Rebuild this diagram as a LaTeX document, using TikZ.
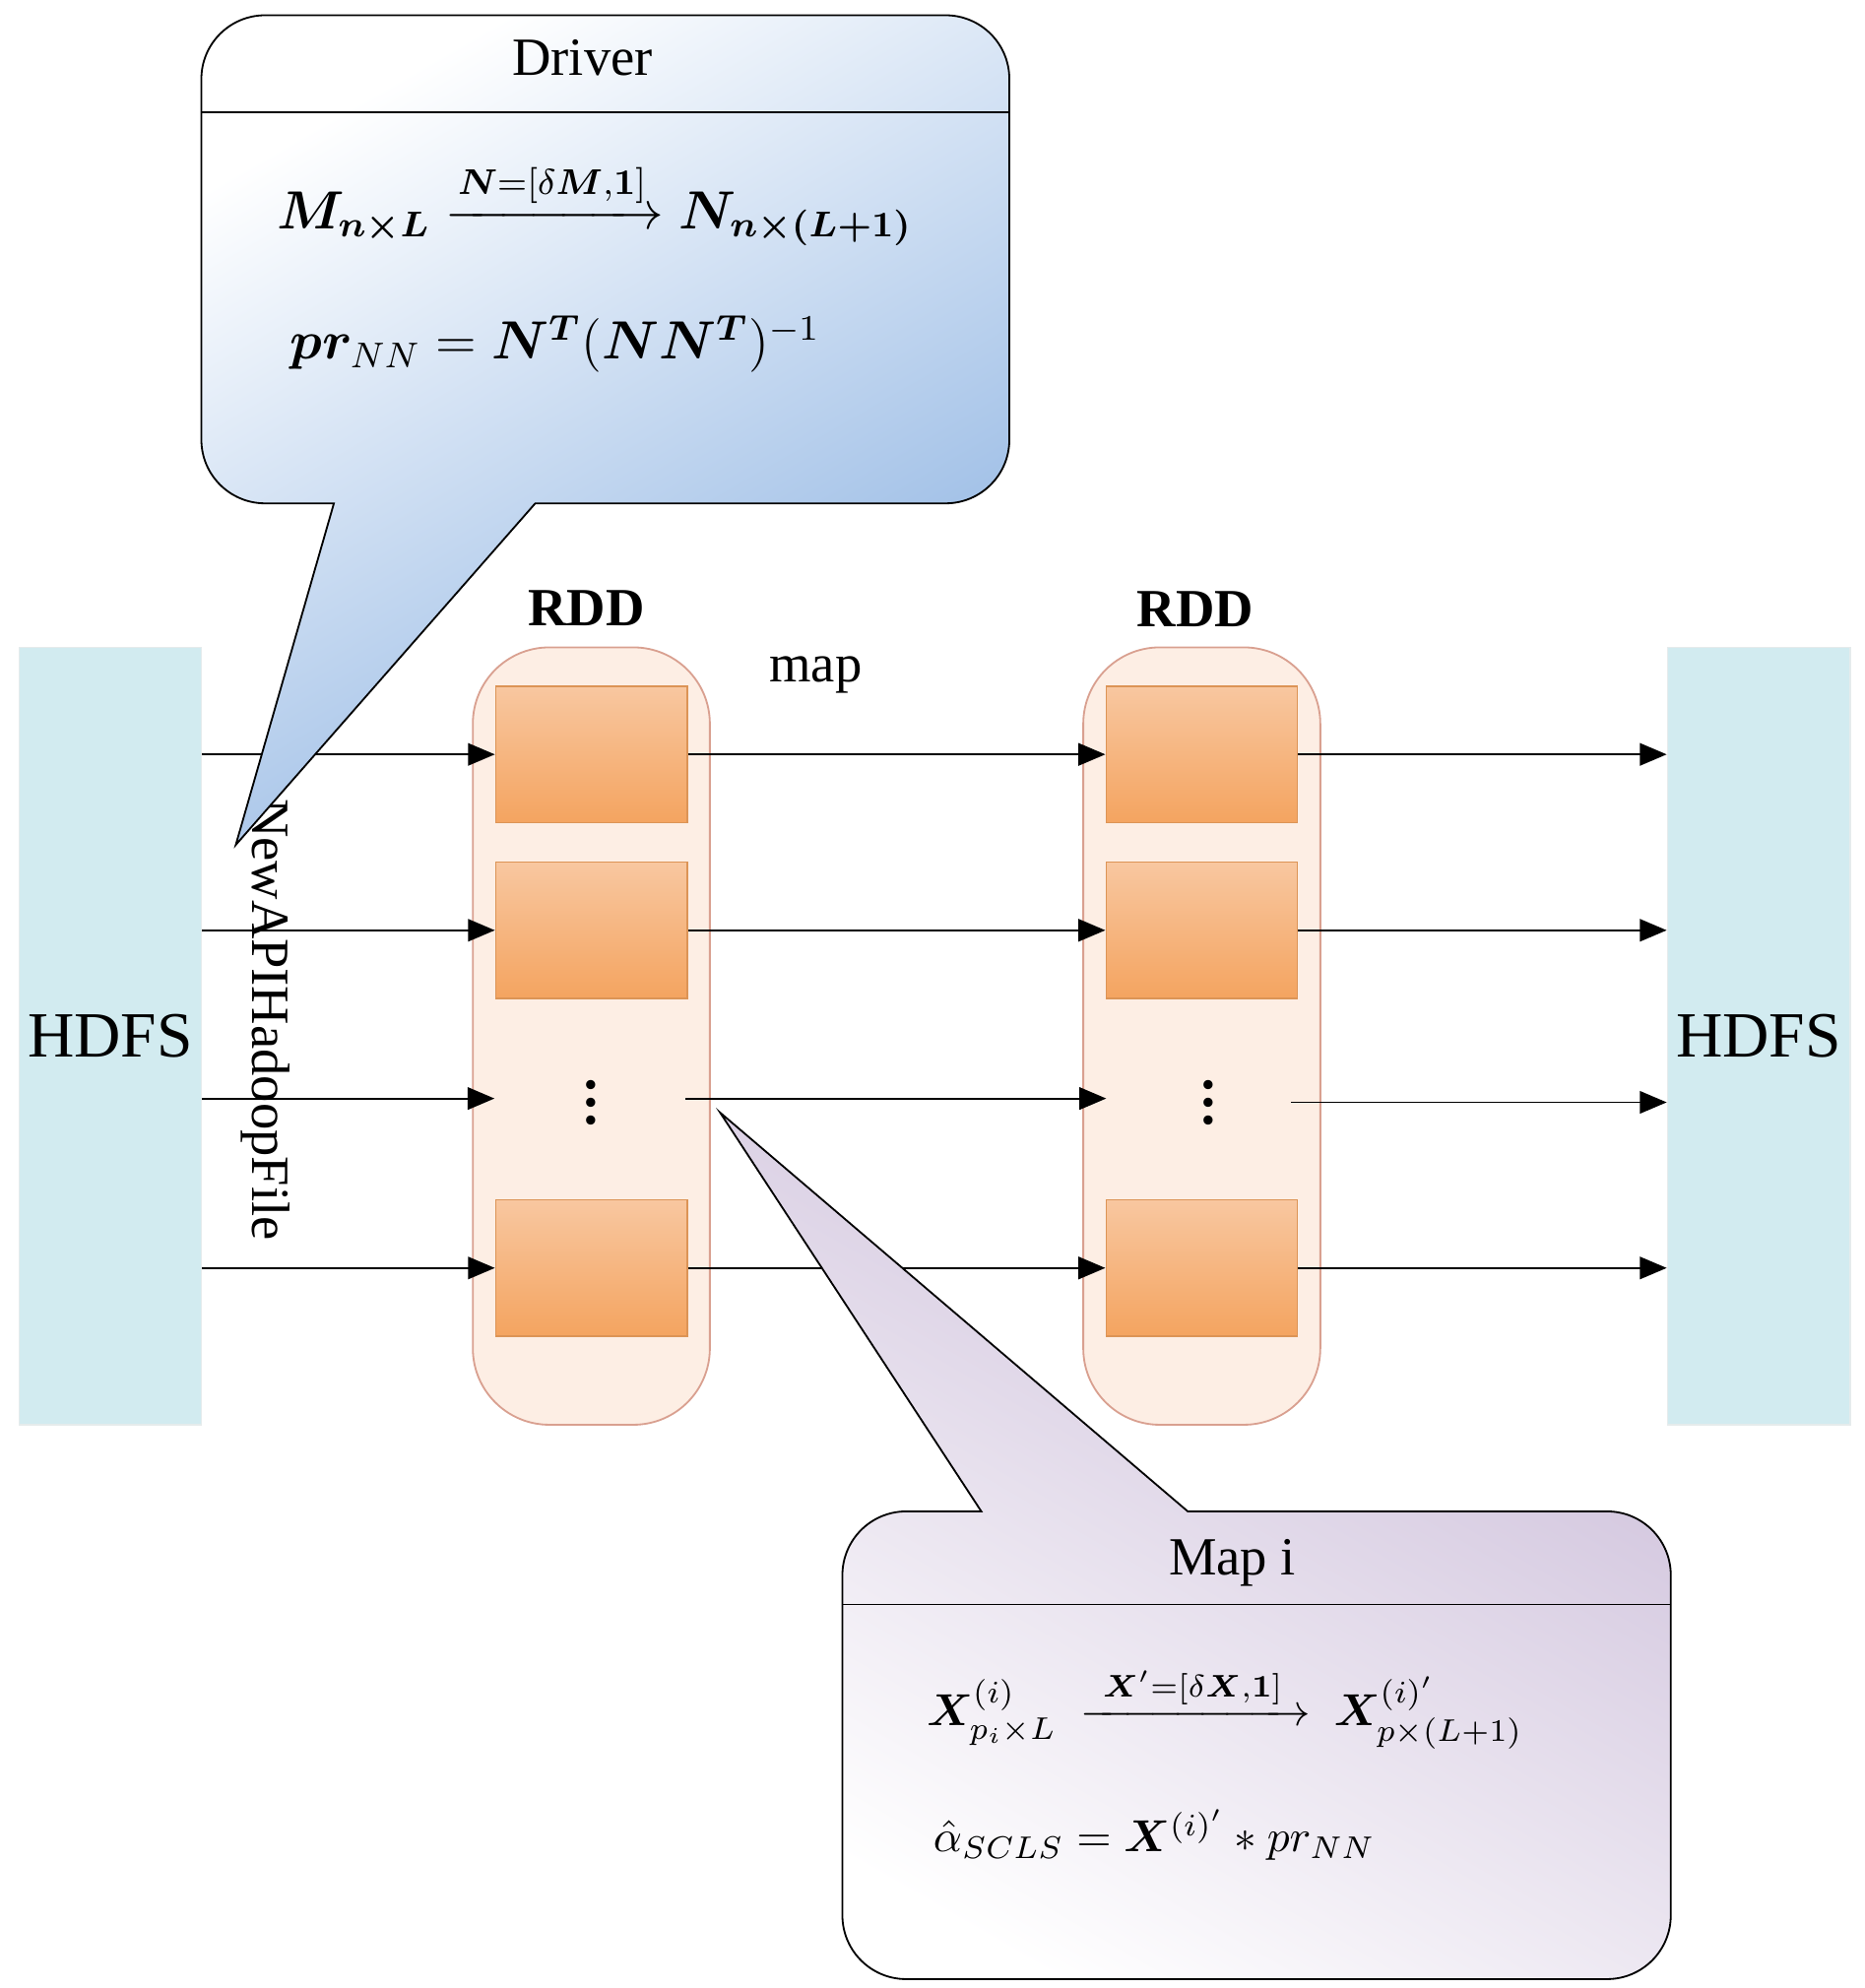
\documentclass[tikz,border=0pt]{standalone}
\usepackage{amsmath,bm}
\usepackage{fontspec}
\setmainfont{Liberation Serif}
\usetikzlibrary{arrows.meta,positioning,calc}
\definecolor{hdfsfill}{HTML}{D2EBF0}
\definecolor{rddfill}{HTML}{FDEEE4}
\definecolor{rddline}{HTML}{D9A090}
\definecolor{partop}{HTML}{F8C7A0}
\definecolor{parbot}{HTML}{F4A460}
\definecolor{drvblue}{HTML}{8DB3E2}
\definecolor{maplav}{HTML}{CABBD8}
\tikzset{
  hdfs/.style={rectangle,draw=hdfsfill!80!black!30,fill=hdfsfill,inner sep=0pt,minimum width=1.43cm,minimum height=6.1cm,font=\Large},
  rdd/.style={rectangle,rounded corners=0.6cm,draw=rddline,fill=rddfill,minimum width=1.86cm,minimum height=6.1cm},
  part/.style={rectangle,draw=parbot!90!black,top color=partop,bottom color=parbot,minimum width=1.5cm,minimum height=1.07cm},
  flow/.style={-{Triangle[length=6pt,width=5pt]},thin},
  ttl/.style={font=\large\bfseries}
}
\begin{document}
\begin{tikzpicture}
\useasboundingbox (0,0) rectangle (14.63,-15.6);
% storage and RDDs
\node[hdfs] (hin) at (0.865,-8.13) {HDFS};
\node[hdfs] (hout) at (13.8,-8.13) {HDFS};
\node[rdd] (r1) at (4.64,-8.13) {};
\node[rdd] (r2) at (9.43,-8.13) {};
\node[ttl] at (4.6,-4.77) {RDD};
\node[ttl] at (9.38,-4.78) {RDD};
\node[font=\large] (map) at (6.4,-5.3) {map};
% partitions
\foreach \n/\y in {1/-5.92,2/-7.3,4/-9.95} {
  \node[part] (a\n) at (4.64,\y) {};
  \node[part] (b\n) at (9.43,\y) {};
}
\node[font=\LARGE] (a3) at (4.64,-8.55) {$\vdots$};
\node[font=\LARGE] (b3) at (9.48,-8.55) {$\vdots$};
\coordinate (a3w) at (3.88,-8.62); \coordinate (a3e) at (5.38,-8.62);
\coordinate (b3w) at (8.68,-8.62); \coordinate (b3e) at (10.13,-8.65);
% flows
\foreach \n in {1,2,4} {
  \draw[flow] (hin.east |- a\n.west) -- (a\n.west);
  \draw[flow] (a\n.east) -- (b\n.west);
  \draw[flow] (b\n.east) -- (hout.west |- b\n.east);
}
\draw[flow] (hin.east |- a3w) -- (a3w);
\draw[flow] (a3e) -- (b3w);
\draw[flow] (b3e) -- (hout.west |- b3e);
\node[rotate=-90,font=\large] (api) at (2.08,-8.0) {NewAPIHadoopFile};
% driver callout
\draw[top color=white,bottom color=drvblue,shading angle=30]
  (1.85,-6.63) -- (2.62,-3.95) -- (2.08,-3.95) arc[start angle=270,end angle=180,radius=0.5]
  -- (1.58,-0.62) arc[start angle=180,end angle=90,radius=0.5]
  -- (7.42,-0.12) arc[start angle=90,end angle=0,radius=0.5]
  -- (7.92,-3.45) arc[start angle=0,end angle=-90,radius=0.5]
  -- (4.20,-3.95) -- cycle;
\draw (1.58,-0.88) -- (7.92,-0.88);
\node[font=\large] (drv) at (4.57,-0.45) {Driver};
\node[font=\large,right] (f1) at (2.05,-1.6) {$\bm{M}_{\bm{n\times L}}\xrightarrow{\bm{N}=[\delta\bm{M},\bm{1}]}\bm{N}_{\bm{n\times(L+1)}}$};
\node[font=\large,right] (f2) at (2.15,-2.7) {$\bm{pr}_{NN}=\bm{N}^{\bm{T}}(\bm{NN}^{\bm{T}})^{-1}$};
% map callout
\draw[bottom color=white,top color=maplav,shading angle=-30]
  (5.65,-8.73) -- (7.70,-11.86) -- (7.11,-11.86) arc[start angle=90,end angle=180,radius=0.5]
  -- (6.61,-15.03) arc[start angle=180,end angle=270,radius=0.5]
  -- (12.61,-15.53) arc[start angle=270,end angle=360,radius=0.5]
  -- (13.11,-12.36) arc[start angle=0,end angle=90,radius=0.5]
  -- (9.32,-11.86) -- cycle;
\draw (6.61,-12.59) -- (13.11,-12.59);
\node[font=\large] (mapi) at (9.67,-12.26) {Map i};
\node[right] (f3) at (7.15,-13.4) {$\bm{X}^{(i)}_{p_i\times L}\ \xrightarrow{\ \bm{X}'=[\delta\bm{X},\bm{1}]\ }\ \bm{X}^{(i)'}_{p\times(L+1)}$};
\node[right] (f4) at (7.2,-14.4) {$\hat\alpha_{SCLS}=\bm{X}^{(i)'}*pr_{NN}$};
\end{tikzpicture}
\end{document}
